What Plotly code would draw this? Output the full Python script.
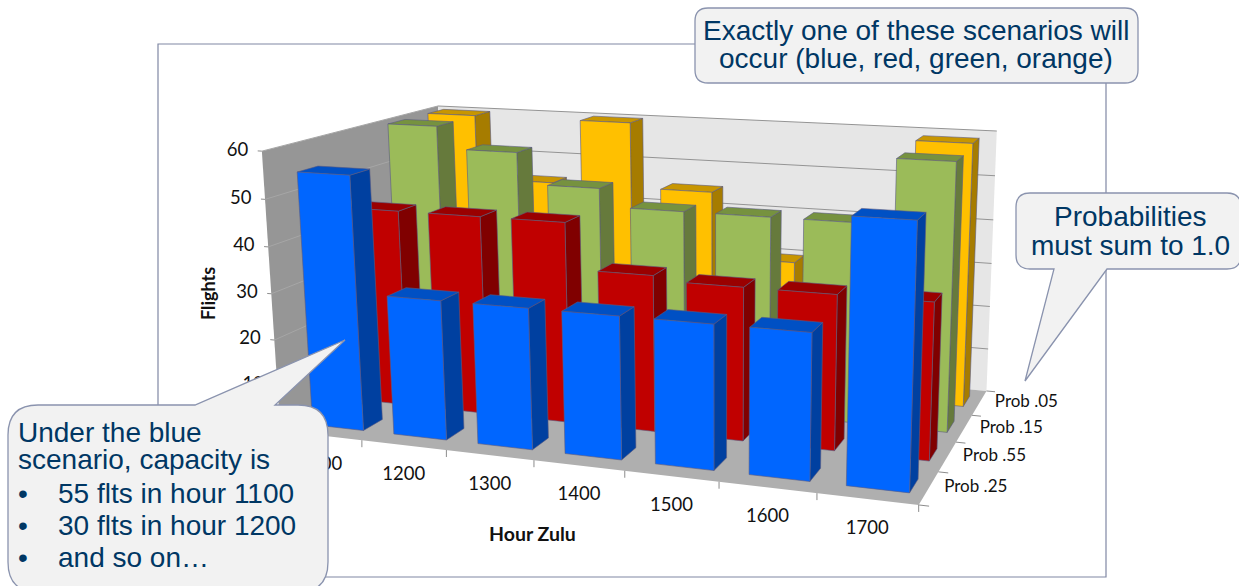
import numpy as np
import plotly.graph_objects as go

WIDTH, HEIGHT = 1239, 586

# Capacity scenarios: flights per hour, one list per probability row (front to back)
hours = ["1100", "1200", "1300", "1400", "1500", "1600", "1700"]
scenario_labels = ["Prob .25", "Prob .55", "Prob .15", "Prob .05"]
flights_blue = [55, 30, 30, 30, 30, 30, 53]
flights_red = [44, 44, 44, 34, 33, 33, 33]
flights_green = [60, 55, 48, 44, 44, 44, 58]
flights_orange = [60, 45, 60, 45, 30, 25, 59]
flight_ticks = [0, 10, 20, 30, 40, 50, 60]

# front, top and side shades of each scenario's bars
row_styles = [
    (flights_blue, "#0066FF", "#0050C4", "#0040A0"),
    (flights_red, "#C00000", "#9A0000", "#800000"),
    (flights_green, "#9BBB59", "#76923F", "#667A3C"),
    (flights_orange, "#FFC000", "#C89600", "#A67C00"),
]
BAR_W, BAR_X = 0.63, 0.22   # bar width and its inset within an hour cell
BAR_D, BAR_Y = 0.42, 0.30   # bar depth and its inset within a scenario row
EDGE = "rgba(90,90,130,0.75)"

# Perspective view of the plot box: where box points fall on the page
VIEW_ANCHORS = [
    (0, 0, 0, 279, 428), (1, 0, 0, 363, 438), (2, 0, 0, 447, 448), (5, 0, 0, 718, 484),
    (6, 0, 0, 815, 495), (7, 0, 0, 917, 507), (7, 1, 0, 942, 472), (7, 2, 0, 958, 441),
    (7, 3, 0, 974, 414), (7, 4, 0, 983, 388), (7, 4, 60, 998, 133), (7, 4, 30, 990, 263),
    (0, 4, 60, 436, 102), (0, 0, 60, 266, 155), (0, 0, 30, 267, 292), (0, 4, 0, 450, 347),
]


def solve_view(anchors):
    rows = []
    for X, Y, Z, u, v in anchors:
        w = (X / 7, Y / 4, Z / 60, 1)
        u, v = u / 1000, v / 1000
        rows.append([*w, 0, 0, 0, 0, *[-u * c for c in w]])
        rows.append([0, 0, 0, 0, *w, *[-v * c for c in w]])
    return np.linalg.svd(np.array(rows))[2][-1].reshape(3, 4)


VIEW = solve_view(VIEW_ANCHORS)


def project(x, y, z):
    p = VIEW @ np.array([x / 7, y / 4, z / 60, 1.0])
    return 1000 * p[0] / p[2], 1000 * p[1] / p[2]


def polygon_trace(polys, fill, line=EDGE, width=0.8):
    xs, ys = [], []
    for poly in polys:
        pts = [project(*c) for c in poly]
        pts.append(pts[0])
        xs += [p[0] for p in pts] + [None]
        ys += [p[1] for p in pts] + [None]
    return go.Scatter(x=xs, y=ys, mode="lines", fill="toself", fillcolor=fill,
                      line=dict(color=line, width=width), hoverinfo="skip", showlegend=False)


def segment_trace(segments, color, width=1, drop=0):
    xs, ys = [], []
    for a, b in segments:
        pa, pb = project(*a), project(*b)
        xs += [pa[0], pb[0], None]
        ys += [pa[1], pb[1] + drop, None]
    return go.Scatter(x=xs, y=ys, mode="lines", line=dict(color=color, width=width),
                      hoverinfo="skip", showlegend=False)


fig = go.Figure()

# Walls and floor of the box
fig.add_trace(polygon_trace([[(0, 0, 0), (0, 4, 0), (0, 4, 60), (0, 0, 60)]], "#969696", "rgba(0,0,0,0)"))
fig.add_trace(polygon_trace([[(0, 4, 0), (7, 4, 0), (7, 4, 60), (0, 4, 60)]], "#E6E6E6", "rgba(0,0,0,0)"))
fig.add_trace(polygon_trace([[(0, 0, 0), (7, 0, 0), (7, 4, 0), (0, 4, 0)]], "#AFAFAF", "rgba(0,0,0,0)"))

# Gridlines on the walls, tick marks along the axes
levels = [t for t in flight_ticks if t > 0]
fig.add_trace(segment_trace([((0, 0, t), (0, 4, t)) for t in levels], "#A6A6A6"))
fig.add_trace(segment_trace([((0, 4, t), (7, 4, t)) for t in levels], "#949494"))
fig.add_trace(segment_trace([((-0.05, 0, t), (0, 0, t)) for t in flight_ticks], "#8C8C8C"))
fig.add_trace(segment_trace([((i, 0, 0), (i, 0, 0)) for i in range(8)], "#8C8C8C", drop=7))
fig.add_trace(segment_trace([((7, k, 0), (7.1, k, 0)) for k in range(5)], "#8C8C8C"))

# Bars, painted from the back row forward
for row in reversed(range(len(row_styles))):
    values, front_c, top_c, side_c = row_styles[row]
    front, top, side = [], [], []
    for i, v in enumerate(values):
        x0, x1 = i + BAR_X, i + BAR_X + BAR_W
        y0, y1 = row + BAR_Y, row + BAR_Y + BAR_D
        front.append([(x0, y0, 0), (x1, y0, 0), (x1, y0, v), (x0, y0, v)])
        top.append([(x0, y0, v), (x1, y0, v), (x1, y1, v), (x0, y1, v)])
        side.append([(x1, y0, 0), (x1, y1, 0), (x1, y1, v), (x1, y0, v)])
    fig.add_trace(polygon_trace(side, side_c))
    fig.add_trace(polygon_trace(top, top_c))
    fig.add_trace(polygon_trace(front, front_c))


def label_trace(items, size, anchor="middle center"):
    return go.Scatter(x=[p[0] for p in items], y=[p[1] for p in items], text=[p[2] for p in items],
                      mode="text", textposition=anchor, hoverinfo="skip", showlegend=False,
                      textfont=dict(family="Lato", size=size, color="#111111"))


# Tick labels sit under the callouts, so they are drawn as traces
value_labels = [(*project(-0.05, 0, t), f"{t}  ") for t in flight_ticks]
hour_labels = [(project(i + .5, 0, 0)[0], project(i + .5, 0, 0)[1] + 30, h) for i, h in enumerate(hours)]
row_labels = [(project(7, k + .5, 0)[0] + 47, project(7, k + .5, 0)[1], s) for k, s in enumerate(scenario_labels)]
fig.add_trace(label_trace(value_labels, 18.5, "middle left"))
fig.add_trace(label_trace(hour_labels, 18.5))
fig.add_trace(label_trace(row_labels, 17))

annotations = [
    dict(x=208, y=294, text="<b>Flights</b>", textangle=-90, font=dict(family="Lato", size=18, color="#111111")),
    dict(x=532, y=533, text="<b>Hour Zulu</b>", font=dict(family="Lato", size=19.5, color="#111111")),
]

# Callout text, one annotation per line
NAVY = "#003764"
callout_lines = [
    (916, 30, "Exactly one of these scenarios will", "center"),
    (916, 58, "occur (blue, red, green, orange)", "center"),
    (1130, 216, "Probabilities", "center"),
    (1130, 245, "must sum to 1.0", "center"),
    (16, 432, "Under the blue", "left"),
    (16, 459, "scenario, capacity is", "left"),
    (16, 493, "•", "left"), (56, 493, "55 flts in hour 1100", "left"),
    (16, 525, "•", "left"), (56, 525, "30 flts in hour 1200", "left"),
    (16, 557, "•", "left"), (56, 557, "and so on…", "left"),
]
for x, y, text, anchor in callout_lines:
    annotations.append(dict(x=x, y=y, text=text, xanchor=anchor,
                            font=dict(family="Liberation Sans", size=28, color=NAVY)))
for a in annotations:
    a.update(xref="x", yref="y", showarrow=False, yanchor="middle")
    a.setdefault("xanchor", "center")


def rounded(x0, y0, x1, y1, r, tail=None):
    """Rounded box path; tail is (edge, start, tip_x, tip_y, end) on the top or bottom edge."""
    top, bottom = "", ""
    if tail and tail[0] == "top":
        top = f"L{tail[1]},{y0} L{tail[2]},{tail[3]} L{tail[4]},{y0} "
    if tail and tail[0] == "bottom":
        bottom = f"L{tail[1]},{y1} L{tail[2]},{tail[3]} L{tail[4]},{y1} "
    return (f"M{x0 + r},{y0} {top}L{x1 - r},{y0} Q{x1},{y0} {x1},{y0 + r} L{x1},{y1 - r} "
            f"Q{x1},{y1} {x1 - r},{y1} {bottom}L{x0 + r},{y1} Q{x0},{y1} {x0},{y1 - r} "
            f"L{x0},{y0 + r} Q{x0},{y0} {x0 + r},{y0} Z")


CALLOUT = dict(type="path", xref="x", yref="y", fillcolor="#F2F2F2",
               line=dict(color="#8A93AE", width=1.3), layer="above")
shapes = [
    dict(type="rect", xref="x", yref="y", x0=158, y0=44, x1=1106, y1=577, layer="below",
         fillcolor="rgba(0,0,0,0)", line=dict(color="#8088A4", width=1.2)),
    dict(CALLOUT, path=rounded(695, 8, 1138, 83, 13)),
    dict(CALLOUT, path=rounded(1016, 193, 1241, 269, 14, ("bottom", 1107, 1025, 381, 1054))),
    dict(CALLOUT, path=rounded(8, 405, 328, 592, 30, ("top", 195, 345, 340, 275))),
]

fig.update_layout(
    width=WIDTH, height=HEIGHT, margin=dict(l=0, r=0, t=0, b=0),
    paper_bgcolor="white", plot_bgcolor="rgba(0,0,0,0)", showlegend=False,
    xaxis=dict(range=[0, WIDTH], visible=False, fixedrange=True),
    yaxis=dict(range=[HEIGHT, 0], visible=False, fixedrange=True),
    shapes=shapes, annotations=annotations,
)
fig.write_html("out.html", config=dict(displayModeBar=False))
